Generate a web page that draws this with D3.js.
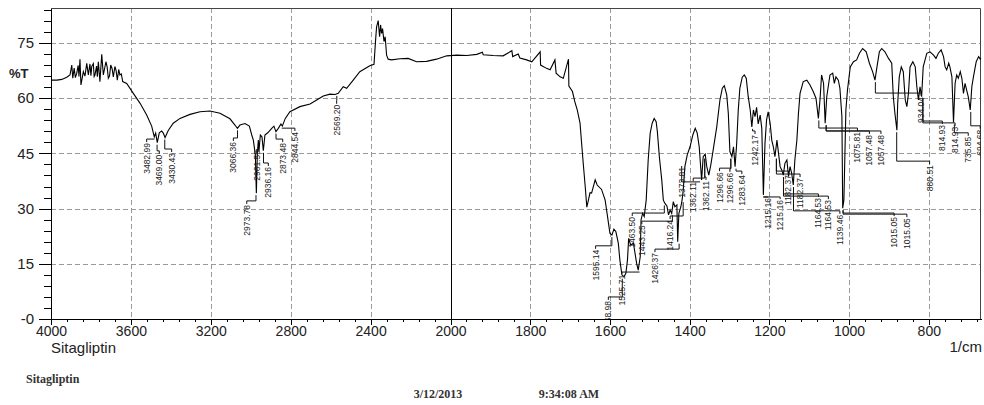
<!DOCTYPE html>
<html>
<head>
<meta charset="utf-8">
<style>
  body { margin: 0; background: #fff; }
  svg { display: block; font-family: Arial, 'Liberation Sans', sans-serif; }
  .axis text { font-size: 14px; fill: #222; }
  .y-axis text { font-size: 15px; }
  .axis path, .axis line { stroke: #000; shape-rendering: crispEdges; }
  .grid line { stroke: #9a9a9a; stroke-dasharray: 5,3; shape-rendering: crispEdges; }
  .peak-label { font-size: 8.5px; fill: #222; }
  .leader { fill: none; stroke: #111; stroke-width: 1; }
  .foot { font-family: 'Liberation Serif', 'DejaVu Serif', serif; font-weight: bold; font-size: 12px; fill: #333; }
</style>
</head>
<body>
<div id="chart"></div>
<script src="https://cdn.jsdelivr.net/npm/d3@7"></script>
<script>
// spectrum (1/cm, %T)
const wavenumbers = [
  4000, 3970, 3946, 3921, 3905, 3896, 3891, 3884, 3878, 3871, 3864, 3860, 3855, 3850, 3838, 3830,
  3821, 3813, 3805, 3800, 3796, 3788, 3784, 3780, 3772, 3768, 3763, 3755, 3746, 3738, 3725, 3719,
  3713, 3707, 3701, 3694, 3688, 3680, 3674, 3668, 3661, 3655, 3648, 3641, 3621,
  3588, 3554, 3521, 3496,
  3483, 3476, 3468, 3458, 3446, 3438, 3429, 3413, 3388, 3354, 3304, 3254, 3204, 3154, 3104, 3079,
  3067, 3054, 3029, 3007, 2995, 2987, 2977, 2972, 2967, 2962, 2959, 2952, 2944, 2937, 2929, 2915,
  2895, 2884, 2874, 2862, 2849, 2842, 2827, 2804, 2754, 2703, 2670, 2637, 2603, 2578, 2562, 2537,
  2520, 2487, 2454, 2404, 2383, 2375, 2370, 2362, 2355, 2350, 2345, 2340, 2333, 2327, 2320, 2312,
  2295, 2253, 2212, 2170, 2120, 2070, 2019, 1984, 1959, 1934, 1920, 1918, 1893, 1868, 1846, 1844,
  1830, 1826, 1809, 1796, 1775, 1774, 1759, 1750, 1738, 1735, 1725, 1717, 1704, 1703, 1694, 1688,
  1682, 1675, 1671, 1667, 1662, 1658, 1654, 1650, 1646, 1637, 1632, 1621, 1612, 1606, 1600, 1595,
  1590, 1585, 1579, 1575, 1570, 1565, 1560, 1556, 1553, 1548, 1541, 1533, 1529, 1524, 1522, 1518,
  1514, 1509, 1504, 1499, 1494, 1489, 1484, 1481, 1476, 1470, 1466, 1462, 1457, 1453, 1449, 1445,
  1441, 1437, 1432, 1430, 1427, 1422, 1419, 1416, 1412, 1406, 1399, 1392, 1386, 1381, 1376, 1370,
  1366, 1361, 1357, 1352, 1347, 1341, 1332, 1324, 1318, 1313, 1307, 1303, 1299, 1294, 1290, 1286,
  1282, 1278, 1274, 1268, 1263, 1258, 1253, 1248, 1244, 1240, 1236, 1232, 1228, 1223, 1219, 1215,
  1211, 1207, 1203, 1198, 1194, 1190, 1186, 1181, 1177, 1173, 1169, 1165, 1161, 1156, 1152, 1148,
  1144, 1140, 1136, 1131, 1127, 1123, 1115, 1106, 1098, 1090, 1083, 1077, 1073, 1069, 1064, 1060,
  1056, 1048, 1041, 1037, 1033, 1027, 1023, 1018, 1016, 1013, 1008, 1004, 997, 989, 981, 974,
  966, 957, 949, 941, 935, 930, 924, 918, 910, 901, 893, 889, 885, 880, 878, 874,
  869, 864, 859, 855, 851, 847, 840, 834, 830, 826, 822, 818, 814, 805, 797, 788,
  782, 776, 769, 763, 759, 755, 750, 747, 742, 738, 734, 730, 726, 721, 717, 713,
  709, 705, 701, 696, 692, 688, 681, 675, 671, 669
]

const transmittance = [
  64.9, 64.9, 65.1, 65.7, 66.3, 69.0, 65.4, 68.2, 65.6, 66.8, 68.9, 65.9, 70.6, 63.6, 67.2, 66.0,
  69.5, 66.3, 69.3, 66.1, 68.6, 69.4, 65.9, 66.3, 68.7, 65.8, 69.9, 64.5, 71.9, 66.3, 69.9, 68.5,
  65.4, 66.0, 69.0, 68.0, 65.8, 68.6, 67.5, 64.9, 67.8, 66.3, 66.6, 64.5, 64.0,
  61.3, 58.6, 55.4, 52.4,
  49.5, 50.5, 47.9, 50.6, 51.1, 50.5, 49.3, 51.2, 53.2, 54.5, 55.6, 56.3, 56.5, 55.9, 54.4, 52.7,
  51.8, 52.7, 53.1, 52.4, 50.0, 48.6, 44.6, 34.2, 45.0, 48.6, 45.5, 50.0, 49.5, 45.7, 50.0, 50.6,
  51.8, 52.4, 50.9, 51.8, 53.0, 52.4, 54.5, 56.3, 57.7, 58.4, 59.5, 60.6, 61.1, 61.0, 61.3, 63.1,
  62.7, 64.9, 67.2, 68.8, 69.2, 75.8, 79.4, 81.1, 76.7, 79.9, 77.6, 78.9, 75.4, 76.7, 71.7, 70.6,
  70.4, 70.7, 70.8, 69.9, 70.0, 70.6, 71.5, 71.7, 71.6, 71.9, 72.5, 71.8, 71.6, 71.5, 72.9, 71.3,
  72.0, 70.9, 70.4, 69.9, 72.6, 69.0, 68.1, 67.7, 70.4, 66.8, 65.8, 65.4, 70.6, 63.3, 61.8, 59.0,
  56.8, 53.2, 47.7, 42.3, 36.0, 30.4, 32.3, 34.3, 34.2, 37.8, 36.4, 35.2, 32.3, 27.8, 23.3, 22.8,
  24.4, 23.7, 20.6, 16.0, 12.0, 11.5, 12.4, 16.0, 21.9, 20.1, 20.6, 15.1, 13.3, 16.9, 26.9, 28.7,
  27.8, 32.3, 43.2, 50.5, 53.2, 54.5, 53.6, 50.9, 44.1, 37.8, 32.3, 31.4, 30.7, 28.3, 29.6, 28.7,
  31.9, 30.5, 31.0, 21.0, 28.7, 30.5, 32.3, 35.1, 41.4, 44.6, 46.8, 50.0, 51.8, 50.5, 46.8, 37.8,
  44.1, 44.8, 41.4, 39.1, 41.8, 45.9, 52.2, 59.5, 62.7, 63.4, 60.9, 55.9, 45.5, 44.1, 46.8, 41.4,
  47.7, 56.8, 62.7, 65.7, 66.3, 65.4, 60.4, 56.8, 52.2, 56.8, 55.0, 57.5, 53.0, 55.4, 51.8, 33.7,
  47.7, 54.1, 56.3, 53.2, 48.6, 46.8, 44.1, 48.6, 45.0, 41.4, 40.5, 39.1, 42.3, 43.2, 38.7, 41.4,
  39.6, 36.4, 43.2, 48.6, 55.9, 61.3, 64.5, 64.9, 63.6, 61.8, 60.0, 54.5, 59.5, 66.3, 64.0, 53.2,
  60.4, 66.3, 66.8, 64.0, 65.8, 64.9, 62.7, 55.0, 30.1, 32.3, 56.8, 62.2, 68.5, 69.9, 70.4, 72.2,
  73.5, 72.6, 69.5, 67.2, 64.9, 68.5, 72.6, 73.5, 72.6, 70.8, 69.5, 60.4, 55.9, 51.3, 58.6, 65.8,
  68.5, 67.2, 59.5, 57.7, 61.3, 68.5, 69.9, 68.5, 63.1, 59.5, 63.1, 60.4, 68.5, 72.2, 72.6, 71.7,
  70.8, 72.2, 73.1, 71.3, 68.5, 67.7, 69.5, 68.5, 65.8, 53.4, 64.0, 66.3, 65.4, 67.2, 65.4, 61.3,
  64.0, 62.2, 60.4, 56.8, 63.1, 65.8, 69.9, 71.3, 70.6, 70.8
]

const xMajorTicks = [4000, 3600, 3200, 2800, 2400, 2000, 1800, 1600, 1400, 1200, 1000, 800]
const yTicks = [0, 15, 30, 45, 60, 75]
const yTickLabels = ['-0', '15', '30', '45', '60', '75']

// peak picks: text, where the label sits (1/cm) and the %T of its top end
const peakLabels = [
  '3482.99', '3469.00', '3430.43', '3066.36', '2973.78', '2961.59', '2936.16', '2873.48', '2844.54',
  '2569.20', '1595.14', '1568.98', '1525.71', '1463.50', '1443.25', '1426.37', '1416.24', '1373.81',
  '1362.11', '1362.11', '1296.66', '1296.66', '1283.64', '1242.17', '1215.16', '1215.16', '1182.37',
  '1182.37', '1164.53', '1164.53', '1139.46', '1075.81', '1057.48', '1057.48', '1015.05', '1015.05',
  '934.04', '880.51', '814.93', '814.93', '735.85', '694.68'
]
const peakLabelWn = [
  3521, 3458, 3396, 3087, 3020, 2970, 2912, 2840, 2779,
  2570, 1636, 1604, 1570, 1544, 1520, 1487, 1449, 1420,
  1391, 1359, 1325, 1299, 1269, 1236, 1203, 1173, 1152,
  1123, 1077, 1052, 1023, 979, 949, 920, 887, 855,
  819, 798, 766, 734, 701, 671
]
const peakLabelTop = [
  47.8, 44.6, 45.1, 48.1, 31.0, 45.9, 41.3, 47.8, 50.8,
  58.2, 18.8, 4.9, 12.0, 27.7, 25.5, 17.9, 26.9, 41.3,
  37.2, 37.5, 39.9, 39.7, 39.1, 50.0, 32.9, 32.3, 39.1,
  38.3, 32.9, 32.3, 28.3, 50.8, 50.0, 50.0, 27.7, 27.4,
  60.3, 41.8, 52.7, 52.2, 49.5, 51.4
]

const margin = { top: 8, left: 51, right: 3, bottom: 86 }
const width = 984 - margin.left - margin.right
const height = 405 - margin.top - margin.bottom

const spectrum = wavenumbers.map((wn, i) => ({ wn: wn, t: transmittance[i] }))

// the scale changes at 2000 1/cm, as on the instrument print-out
const xPositionScale = d3
  .scaleLinear()
  .domain([4000, 2000, 669])
  .range([0, 399.5, width])

const yPositionScale = d3
  .scaleLinear()
  .domain([0, 84.5])
  .range([height, 0])

const xMinorTicks = d3.range(4000, 2000, -80).concat(d3.range(2000, 669, -40))
const yMinorTicks = d3.range(0, 85, 3)

const svg = d3
  .select('#chart')
  .append('svg')
  .attr('width', 984)
  .attr('height', 405)

const g = svg
  .append('g')
  .attr('transform', 'translate(' + margin.left + ',' + margin.top + ')')

g.append('clipPath')
  .attr('id', 'plot-clip')
  .append('rect')
  .attr('width', width)
  .attr('height', height)

// grid
const grid = g.append('g').attr('class', 'grid')

grid
  .selectAll('.vgrid')
  .data(xMajorTicks.filter(d => d !== 4000 && d !== 2000))
  .enter()
  .append('line')
  .attr('x1', d => Math.round(xPositionScale(d)) + 0.5)
  .attr('x2', d => Math.round(xPositionScale(d)) + 0.5)
  .attr('y1', 0)
  .attr('y2', height)

grid
  .selectAll('.hgrid')
  .data(yTicks.filter(d => d > 0))
  .enter()
  .append('line')
  .attr('x1', 0)
  .attr('x2', width)
  .attr('y1', d => Math.round(yPositionScale(d)) + 0.5)
  .attr('y2', d => Math.round(yPositionScale(d)) + 0.5)

// frame and the 2000 break line
g.append('path')
  .attr('d', 'M0,0.5H' + (width - 0.5) + 'V' + height)
  .attr('fill', 'none')
  .attr('stroke', '#444')

g.append('line')
  .attr('x1', Math.round(xPositionScale(2000)) + 0.5)
  .attr('x2', Math.round(xPositionScale(2000)) + 0.5)
  .attr('y1', 0)
  .attr('y2', height)
  .attr('stroke', '#000')

// spectrum line
const line = d3
  .line()
  .x(d => xPositionScale(d.wn))
  .y(d => yPositionScale(d.t))

g.append('path')
  .datum(spectrum)
  .attr('d', line)
  .attr('fill', 'none')
  .attr('stroke', '#000')
  .attr('stroke-width', 1.1)

// peak labels with their leader lines
function curveAt(wn) {
  const i = spectrum.findIndex(d => d.wn <= wn)
  if (i <= 0) return spectrum[Math.max(i, 0)].t
  const a = spectrum[i - 1]
  const b = spectrum[i]
  return a.t + ((b.t - a.t) * (a.wn - wn)) / (a.wn - b.wn)
}

const labelData = peakLabels.map((text, i) => {
  const wn = parseFloat(text)
  const near = spectrum.filter(d => Math.abs(d.wn - wn) <= 4).map(d => d.t)
  return {
    text: text,
    wn: wn,
    peakT: d3.min(near.concat([curveAt(wn)])),
    labelWn: peakLabelWn[i],
    top: peakLabelTop[i]
  }
})

const labels = g.append('g').attr('clip-path', 'url(#plot-clip)')

labels
  .selectAll('.leader')
  .data(labelData)
  .enter()
  .append('path')
  .attr('class', 'leader')
  .attr('d', d => {
    const px = xPositionScale(d.wn)
    const py = yPositionScale(d.peakT) + 2
    const lx = xPositionScale(d.labelWn)
    const ly = yPositionScale(d.top)
    const mid = Math.max(ly - 4, py)
    return 'M' + px + ',' + py + 'V' + mid + 'H' + lx + 'V' + (ly - 1)
  })

labels
  .selectAll('.peak-label')
  .data(labelData)
  .enter()
  .append('text')
  .attr('class', 'peak-label')
  .attr('text-anchor', 'end')
  .attr('dy', '0.35em')
  .attr('transform', d => {
    return 'translate(' + xPositionScale(d.labelWn) + ',' + yPositionScale(d.top) + ') rotate(-90)'
  })
  .text(d => d.text)

// axes
const xAxis = d3
  .axisBottom(xPositionScale)
  .tickValues(xMajorTicks)
  .tickSize(6)
  .tickSizeOuter(0)
  .tickPadding(1)
  .tickFormat(d3.format('d'))
g.append('g')
  .attr('class', 'axis x-axis')
  .attr('transform', 'translate(0,' + height + ')')
  .call(xAxis)

const xAxisMinor = d3
  .axisBottom(xPositionScale)
  .tickValues(xMinorTicks)
  .tickSize(3)
  .tickSizeOuter(0)
  .tickFormat('')
g.append('g')
  .attr('class', 'axis x-axis-minor')
  .attr('transform', 'translate(0,' + height + ')')
  .call(xAxisMinor)

const yAxis = d3
  .axisLeft(yPositionScale)
  .tickValues(yTicks)
  .tickSize(12)
  .tickSizeOuter(0)
  .tickPadding(5)
  .tickFormat((d, i) => yTickLabels[i])
g.append('g')
  .attr('class', 'axis y-axis')
  .call(yAxis)

const yAxisMinor = d3
  .axisLeft(yPositionScale)
  .tickValues(yMinorTicks)
  .tickSize(7)
  .tickSizeOuter(0)
  .tickFormat('')
g.append('g')
  .attr('class', 'axis y-axis-minor')
  .call(yAxisMinor)

// axis titles and footer
svg
  .append('text')
  .text('%T')
  .attr('x', 9)
  .attr('y', 78)
  .attr('font-size', 13)
  .attr('font-weight', 'bold')
  .attr('fill', '#222')

svg
  .append('text')
  .text('Sitagliptin')
  .attr('x', margin.left)
  .attr('y', 353)
  .attr('font-size', 15)
  .attr('fill', '#222')

svg
  .append('text')
  .text('1/cm')
  .attr('x', 982)
  .attr('y', 352)
  .attr('text-anchor', 'end')
  .attr('font-size', 15)
  .attr('fill', '#222')

svg
  .append('text')
  .attr('class', 'foot')
  .text('Sitagliptin')
  .attr('x', 26)
  .attr('y', 383)

svg
  .append('text')
  .attr('class', 'foot')
  .text('3/12/2013')
  .attr('x', 438)
  .attr('y', 398)
  .attr('text-anchor', 'middle')

svg
  .append('text')
  .attr('class', 'foot')
  .text('9:34:08 AM')
  .attr('x', 569)
  .attr('y', 398)
  .attr('text-anchor', 'middle')
</script>
</body>
</html>
